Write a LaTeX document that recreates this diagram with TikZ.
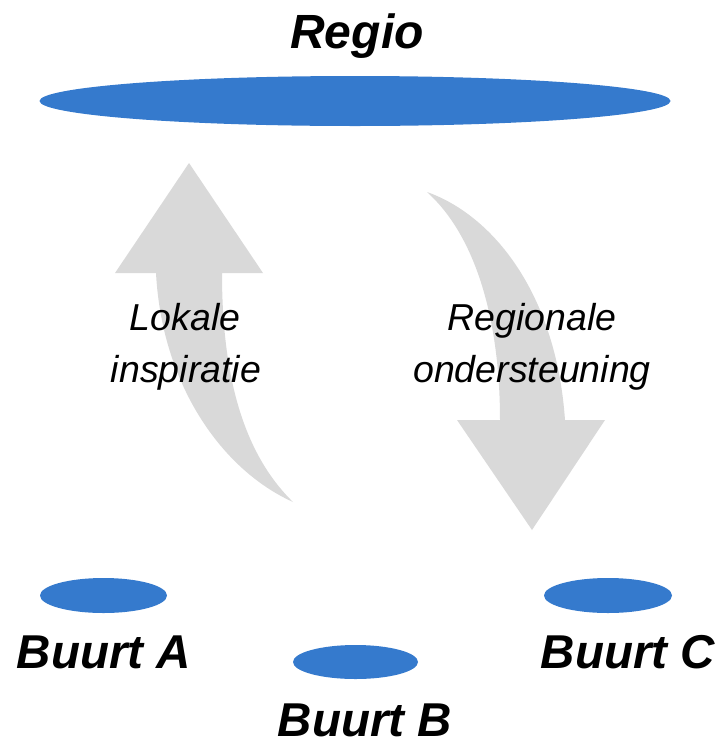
\documentclass[tikz,border=0pt]{standalone}
\usepackage{fontspec}
\setmainfont{Liberation Sans}
\usetikzlibrary{shapes.geometric}
\definecolor{blobblue}{RGB}{53,122,205}
\definecolor{arrowgray}{RGB}{217,217,217}
\begin{document}
\begin{tikzpicture}[x=1pt,y=-1pt,
  blob/.style={ellipse, fill=blobblue, draw=none, inner sep=0pt},
  title/.style={font=\fontsize{48}{56}\selectfont\bfseries\itshape, anchor=base, inner sep=0pt},
  buurtlabel/.style={font=\fontsize{47.5}{54}\selectfont\bfseries\itshape, anchor=base, inner sep=0pt},
  flowlabel/.style={font=\fontsize{37.5}{44}\selectfont\itshape, anchor=base, inner sep=0pt},
  bigarrow/.style={fill=arrowgray, draw=none}]
\useasboundingbox (0,0) rectangle (723,745);
% up arrow (Lokale inspiratie)
\fill[bigarrow] (293,502) .. controls (222,470) and (162,385) .. (156,273)
  -- (115,273) -- (189,163) -- (263,273) -- (222,273)
  .. controls (222,380) and (245,455) .. (293,502) -- cycle;
% down arrow (Regionale ondersteuning)
\fill[bigarrow] (427,192) .. controls (492,215) and (556,292) .. (565,420)
  -- (605,420) -- (532,530) -- (457,420) -- (500,420)
  .. controls (500,330) and (480,240) .. (427,192) -- cycle;
% ellipses
\node[blob, minimum width=631pt, minimum height=50pt] (regio) at (355,101) {};
\node[blob, minimum width=127pt, minimum height=35pt] (a) at (103.5,595.5) {};
\node[blob, minimum width=125pt, minimum height=34pt] (b) at (355.5,662) {};
\node[blob, minimum width=128pt, minimum height=35pt] (c) at (608,595.5) {};
% texts
\node[title] (tregio) at (357,48) {Regio};
\node[buurtlabel] (ta) at (104,668) {Buurt A};
\node[buurtlabel] (tb) at (365,736) {Buurt B};
\node[buurtlabel] (tc) at (628,668) {Buurt C};
\node[flowlabel] (l1) at (185,330) {Lokale};
\node[flowlabel] (l2) at (186,382) {inspiratie};
\node[flowlabel] (r1) at (532,330) {Regionale};
\node[flowlabel] (r2) at (532,382) {ondersteuning};
\end{tikzpicture}
\end{document}
